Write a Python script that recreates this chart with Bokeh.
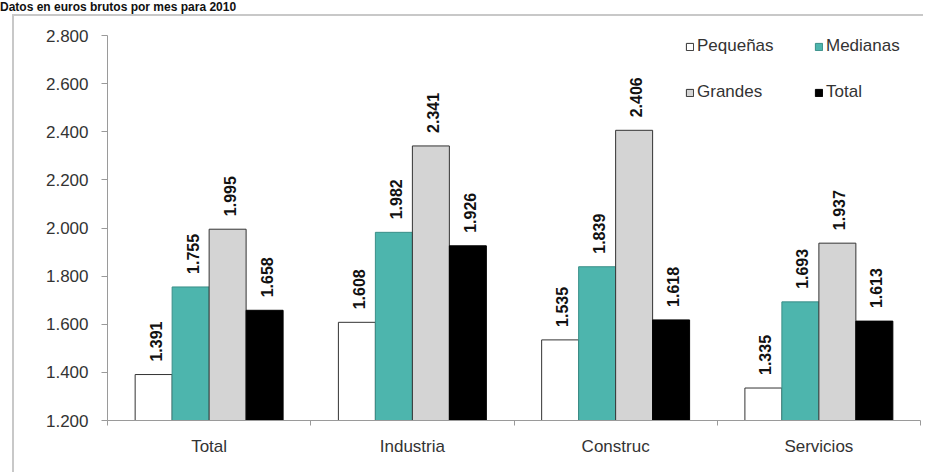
from bokeh.plotting import figure
from bokeh.layouts import column
from bokeh.models import (Range1d, FixedTicker, Legend, LegendItem,
                          ColumnDataSource, Div)
from bokeh.core.properties import value
from bokeh.embed import file_html
from bokeh.resources import INLINE

# Salarios medios por sector y tamaño de empresa (euros brutos por mes, 2010)
sectores = ["Total", "Industria", "Construc", "Servicios"]
pequenas = [1391, 1608, 1535, 1335]
medianas = [1755, 1982, 1839, 1693]
grandes = [1995, 2341, 2406, 1937]
total = [1658, 1926, 1618, 1613]
y_ticks = [1200, 1400, 1600, 1800, 2000, 2200, 2400, 2600, 2800]
titulo = "Datos en euros brutos por mes para 2010"

series = [
    ("Pequeñas", pequenas, "#FFFFFF", "#333333"),
    ("Medianas", medianas, "#4DB5AD", "#3A8F88"),
    ("Grandes", grandes, "#D4D4D4", "#333333"),
    ("Total", total, "#000000", "#000000"),
]

FONT = "Liberation Sans"


def miles(v):
    return f"{v // 1000}.{v % 1000:03d}"


p = figure(width=911, height=458, output_backend="svg", toolbar_location=None,
           x_range=Range1d(0, len(sectores)), y_range=Range1d(1200, 2800),
           min_border_left=93, min_border_right=5, min_border_top=19,
           min_border_bottom=54)
p.outline_line_color = None
p.background_fill_color = "white"
p.border_fill_color = "white"
p.xgrid.visible = False
p.ygrid.visible = False
p.margin = (0, 0, 0, 12)
p.styles = {"border-left": "2px solid #c8c8c8", "border-top": "2px solid #c8c8c8"}

bar_w = 0.182
renderers = []
for k, (name, vals, fill, line) in enumerate(series):
    off = (k - 1.5) * bar_w
    xs = [i + 0.5 + off for i in range(len(sectores))]
    src = ColumnDataSource(dict(x=xs, top=vals, lbl=[miles(v) for v in vals]))
    r = p.vbar(x="x", top="top", bottom=1200, width=bar_w, source=src,
               fill_color=fill, line_color=line, line_width=1)
    renderers.append(r)
    p.text(x="x", y="top", text="lbl", source=src, angle=1.5708,
           text_align="left", text_baseline="middle", x_offset=2, y_offset=-13,
           text_font=value(FONT), text_font_size="16px", text_font_style="bold",
           text_color="#111111")

# axes
p.yaxis.ticker = FixedTicker(ticks=y_ticks)
p.yaxis.major_label_overrides = {t: miles(t) for t in y_ticks}
p.yaxis.minor_tick_line_color = None
p.yaxis.major_tick_in = 0
p.yaxis.major_tick_out = 6
p.yaxis.axis_line_color = "#9a9a9a"
p.yaxis.major_tick_line_color = "#9a9a9a"
p.yaxis.major_label_text_font = FONT
p.yaxis.major_label_text_font_size = "17px"
p.yaxis.major_label_text_color = "#333333"
p.yaxis.major_label_standoff = 13

centers = [i + 0.5 for i in range(len(sectores))]
p.xaxis.ticker = FixedTicker(ticks=centers,
                             minor_ticks=list(range(len(sectores) + 1)))
p.xaxis.major_label_overrides = {c: s for c, s in zip(centers, sectores)}
p.xaxis.major_tick_line_color = None
p.xaxis.minor_tick_in = 0
p.xaxis.minor_tick_out = 5
p.xaxis.minor_tick_line_color = "#9a9a9a"
p.xaxis.axis_line_color = "#9a9a9a"
p.xaxis.major_label_text_font = FONT
p.xaxis.major_label_text_font_size = "17px"
p.xaxis.major_label_text_color = "#333333"
p.xaxis.major_label_standoff = 10

# legend, two columns
nombres = [s[0] for s in series]
for names, x0 in ((("Pequeñas", "Grandes"), 578), (("Medianas", "Total"), 707)):
    items = [LegendItem(label=n, renderers=[renderers[nombres.index(n)]])
             for n in names]
    leg = Legend(items=items, location=(x0, 318), orientation="vertical",
                 spacing=26, padding=0, margin=0, glyph_width=9, glyph_height=9,
                 label_standoff=3, label_height=20, label_text_font=FONT,
                 label_text_font_size="17px", label_text_color="#333333",
                 border_line_color=None, background_fill_alpha=0)
    p.add_layout(leg)

cabecera = Div(text=titulo, width=925, height=14, margin=(0, 0, 0, 0),
               styles={"font-family": FONT, "font-weight": "bold",
                       "font-size": "12px", "line-height": "14px",
                       "color": "#111111", "white-space": "nowrap"})

layout = column(cabecera, p, spacing=0)
open("out.html", "w").write(file_html(layout, INLINE))
